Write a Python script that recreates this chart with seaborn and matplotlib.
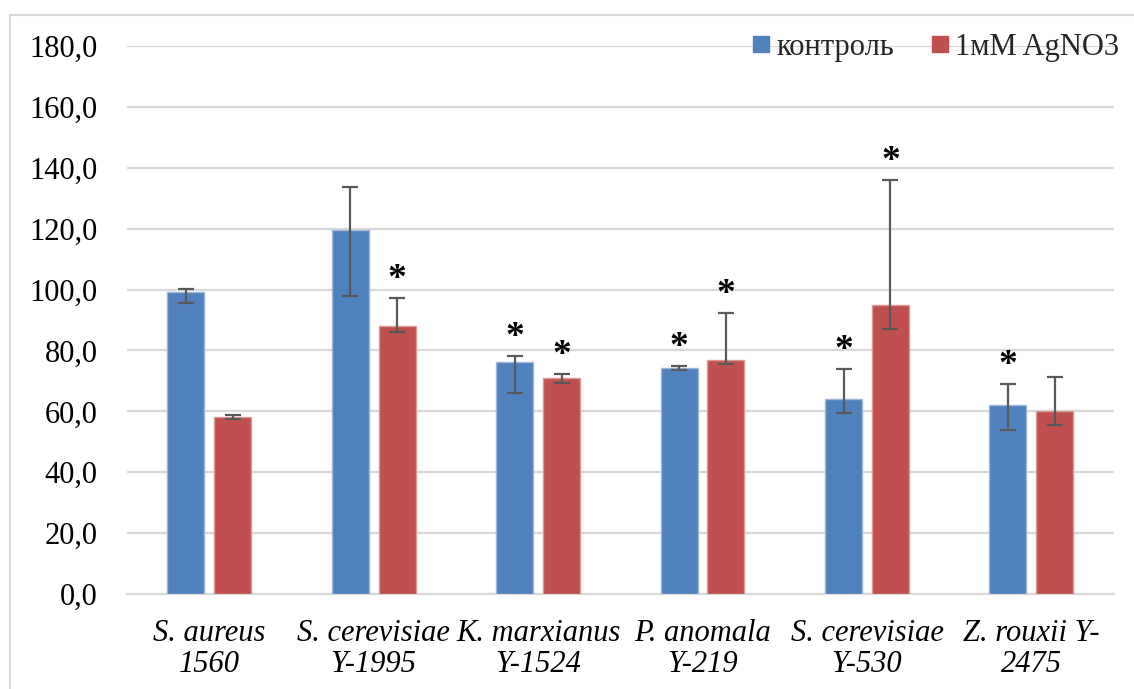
import numpy as np
import pandas as pd
import matplotlib
matplotlib.use("Agg")
import matplotlib.pyplot as plt
from matplotlib.patches import Rectangle
from matplotlib.lines import Line2D
from matplotlib.ticker import FuncFormatter, MultipleLocator
import seaborn as sns

# Strains (x categories)
strains = ["S. aureus\n1560", "S. cerevisiae\nY-1995", "K. marxianus\nY-1524",
           "P. anomala\nY-219", "S. cerevisiae\nY-530", "Z. rouxii Y-\n2475"]
groups = ["контроль", "1мМ AgNO3"]

# Mean values
control = [99.2, 119.5, 76.1, 74.1, 63.9, 62.1]
silver = [58.0, 88.0, 70.9, 76.7, 94.9, 60.1]

# Error bar ends (absolute lower / upper values)
control_low = [95.7, 97.9, 65.9, 73.6, 59.6, 53.9]
control_high = [100.2, 133.7, 78.2, 75.0, 74.0, 68.9]
silver_low = [57.6, 86.1, 69.4, 75.7, 87.0, 55.6]
silver_high = [58.9, 97.1, 72.3, 92.2, 135.9, 71.4]

# Significance marks
control_sig = [False, False, True, True, True, True]
silver_sig = [False, True, True, True, True, False]

colors = ["#4F81BD", "#C0504D"]
edge_colors = ["#9DB6D9", "#DA9A98"]
grid_color = "#D9D9D9"
err_color = "#595959"

sns.set_theme(style="white")
plt.rcParams["font.family"] = "serif"
plt.rcParams["font.serif"] = ["Liberation Serif", "DejaVu Serif"]

df = pd.DataFrame({
    "strain": strains * 2,
    "group": [groups[0]] * len(strains) + [groups[1]] * len(strains),
    "value": control + silver,
})

fig = plt.figure(figsize=(11.34, 6.89), dpi=100)
ax = fig.add_axes([0.112, 0.1379, 0.870, 0.7953])

sns.barplot(data=df, x="strain", y="value", hue="group", order=strains,
            hue_order=groups, palette=colors, saturation=1, width=0.57,
            gap=0.21, errorbar=None, legend=False, ax=ax, zorder=3)

# Error bars and asterisks over each bar
bars = ax.patches
series = [(control, control_low, control_high, control_sig),
          (silver, silver_low, silver_high, silver_sig)]
n = len(strains)
for g, (vals, lo, hi, sig) in enumerate(series):
    for i in range(n):
        bar = bars[g * n + i]
        bar.set_edgecolor(edge_colors[g])
        bar.set_linewidth(1.0)
        xc = bar.get_x() + bar.get_width() / 2
        ax.errorbar(xc, vals[i],
                    yerr=[[vals[i] - lo[i]], [hi[i] - vals[i]]],
                    fmt="none", ecolor=err_color, elinewidth=1.6,
                    capsize=6, capthick=1.6, zorder=4)
        if sig[i]:
            ax.annotate("*", xy=(xc, hi[i]), xytext=(0, 9),
                        textcoords="offset pixels", ha="center",
                        va="baseline", fontsize=27, fontweight="bold",
                        color="black", zorder=5)

ax.set_ylim(0, 180)
ax.set_xlim(-0.5, n - 0.5)
ax.yaxis.set_major_locator(MultipleLocator(20))
ax.yaxis.set_major_formatter(FuncFormatter(lambda v, p: f"{v:.1f}".replace(".", ",")))
ax.grid(axis="y", color=grid_color, linewidth=1.6, zorder=0)
ax.set_axisbelow(True)
for s in ["left", "right", "top"]:
    ax.spines[s].set_visible(False)
ax.spines["bottom"].set_color(grid_color)
ax.spines["bottom"].set_linewidth(1.6)
ax.tick_params(axis="y", length=0, pad=21, labelsize=22, labelcolor="black")
ax.tick_params(axis="x", length=0, pad=18, labelsize=22, labelcolor="black")
ax.set_xlabel("")
ax.set_ylabel("")
for lab in ax.get_xticklabels():
    lab.set_fontstyle("italic")
    lab.set_linespacing(1.08)

handles = [Line2D([0], [0], marker="s", linestyle="none", markersize=11,
                  markerfacecolor=c, markeredgecolor=c) for c in colors]
leg = ax.legend(handles, groups, loc="center right", bbox_to_anchor=(1.018, 0.997),
                ncol=2, frameon=False, fontsize=22, handletextpad=0.0,
                columnspacing=1.0, handlelength=1.0, borderaxespad=0)

# Chart-area frame
fig.add_artist(Rectangle((10 / 1134, -0.05), 1.2, 1 - 15 / 689 + 0.05,
                         transform=fig.transFigure, fill=False,
                         edgecolor=grid_color, linewidth=1.5))

fig.savefig("out.png", dpi=100, facecolor="white")
